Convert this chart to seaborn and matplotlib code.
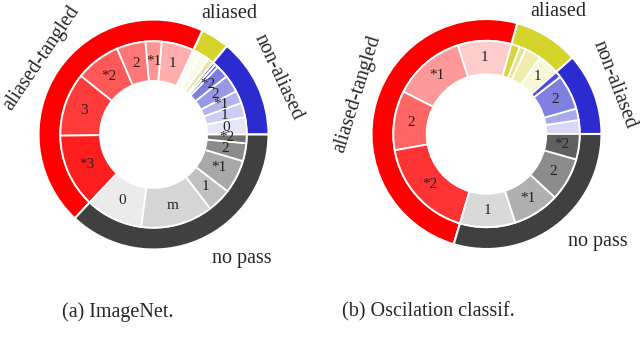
import numpy as np
import matplotlib
matplotlib.use("Agg")
import matplotlib.pyplot as plt
import seaborn as sns

# -------------------------
# data (percent of coefficients)
# -------------------------
outer_names = ["non-aliased", "aliased", "aliased-tangled", "no pass"]

imnet_outer = [14.0, 4.0, 45.0, 37.0]
imnet_inner = [3.0, 2.5, 2.2, 3.0, 2.2, 0.6, 0.5,      # non-aliased
               1.0, 1.5, 1.5,                          # aliased
               5.6, 2.8, 5.0, 7.8, 11.0, 12.8,          # aliased-tangled
               9.9, 12.5, 4.2, 5.8, 3.1, 1.5]           # no pass
imnet_labels = ["0", "1", "*1", "2", "*2", "", "",
                "", "", "",
                "1", "*1", "2", "*2", "3", "*3",
                "0", "m", "1", "*1", "2", "*2"]

osc_outer = [11.6, 9.1, 49.7, 29.6]
osc_inner = [2.4, 2.0, 6.1, 1.1,
             3.7, 2.8, 1.1, 1.5,
             9.3, 12.5, 10.3, 17.6,
             9.6, 8.1, 7.5, 4.4]
osc_labels = ["", "", "2", "",
              "1", "", "", "",
              "1", "*1", "2", "*2",
              "1", "*1", "2", "*2"]

# -------------------------
# colours
# -------------------------
outer_colors = ["#2b2bcf", "#d4d42c", "#ff0000", "#404040"]
imnet_colors = ["#e6e6f8", "#cdcdf2", "#b4b4ec", "#9898e4", "#7e7ede", "#6464d8", "#5050d4",
                "#e6e6a4", "#fafae6", "#fcfcf0",
                "#ffadad", "#ff9494", "#ff7676", "#ff5858", "#ff3a3a", "#ff1e1e",
                "#ebebeb", "#d5d5d5", "#c0c0c0", "#a8a8a8", "#8c8c8c", "#727272"]
osc_colors = ["#d8d8f6", "#a8a8ea", "#8080e0", "#4d4dd8",
              "#f6f6d8", "#eeeeaa", "#e6e690", "#d6d640",
              "#ffcccc", "#ff9999", "#ff6666", "#ff3333",
              "#d9d9d9", "#b0b0b0", "#8c8c8c", "#606060"]

sns.set_theme(style="white")
plt.rcParams["font.family"] = ["Liberation Serif", "DejaVu Serif"]

fig = plt.figure(figsize=(6.4, 3.62), dpi=100)
W, H = 640.0, 362.0
R = 115.0


def donut(cx, cy, outer_vals, inner_vals, inner_labels, inner_colors, hole, names_pos):
    ax = fig.add_axes([(cx - R) / W, (H - cy - R) / H, 2 * R / W, 2 * R / H])
    ax.pie(outer_vals, radius=1.0, colors=outer_colors, startangle=0,
           wedgeprops=dict(width=0.19, edgecolor="white", linewidth=1.5))
    r_in = 0.81
    w = r_in - hole
    ax.pie(inner_vals, radius=r_in, colors=inner_colors, startangle=0,
           labels=inner_labels, labeldistance=(r_in - w / 2) / r_in,
           textprops=dict(fontsize=11, ha="center", va="center", color="#222222"),
           wedgeprops=dict(width=w, edgecolor="white", linewidth=1.3))
    for name, (ang, rad, rot) in zip(outer_names, names_pos):
        t = np.deg2rad(ang)
        ax.text(rad * np.cos(t), rad * np.sin(t), name, rotation=rot,
                ha="center", va="center", fontsize=14.5, clip_on=False,
                rotation_mode="anchor")
    ax.set_xlim(-1, 1)
    ax.set_ylim(-1, 1)
    ax.set_aspect("auto")
    ax.axis("off")
    return ax


donut(153.5, 134.5, imnet_outer, imnet_inner, imnet_labels, imnet_colors, 0.465,
      [(24.6, 1.19, -65), (58, 1.24, 0), (146, 1.18, 56), (-54.5, 1.32, 0)])
donut(486.5, 134, osc_outer, osc_inner, osc_labels, osc_colors, 0.52,
      [(21, 1.19, -69), (59.6, 1.24, 0), (162.7, 1.18, 72.7), (-44, 1.35, 0)])

fig.text(118 / W, 1 - 312 / H, "(a) ImageNet.", ha="center", va="center", fontsize=14.5)
fig.text(428.5 / W, 1 - 312 / H, "(b) Oscilation classif.", ha="center", va="center", fontsize=14.5)

plt.savefig("out.png", dpi=100)
